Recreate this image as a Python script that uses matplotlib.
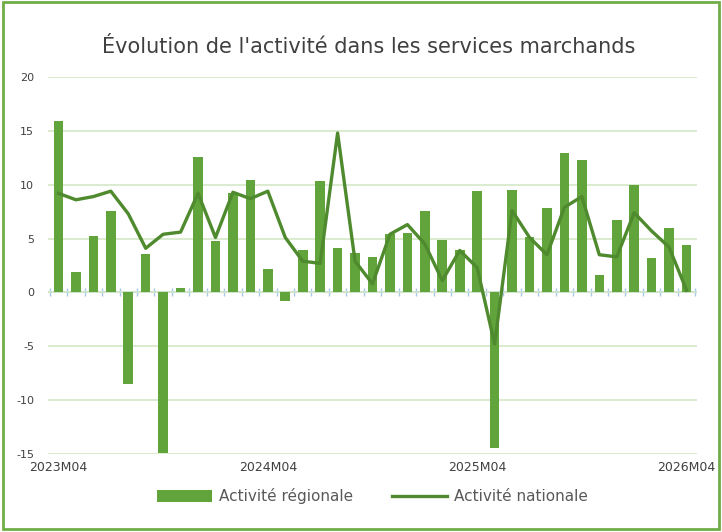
import matplotlib.pyplot as plt
from matplotlib.patches import Rectangle
import numpy as np

# monthly series 2023M04 .. 2026M04
months = [f"{y}M{m:02d}" for y in range(2023, 2027) for m in range(1, 13)][3:40]
regionale = [15.9, 1.9, 5.2, 7.6, -8.5, 3.6, -14.9, 0.4, 12.6, 4.8, 9.2, 10.4, 2.2,
             -0.8, 3.9, 10.3, 4.1, 3.7, 3.3, 5.4, 5.5, 7.6, 4.9, 3.9, 9.4, -14.4,
             9.5, 5.1, 7.8, 12.9, 12.3, 1.6, 6.7, 10.0, 3.2, 6.0, 4.4]
nationale = [9.2, 8.6, 8.9, 9.4, 7.3, 4.1, 5.4, 5.6, 9.2, 5.1, 9.3, 8.7, 9.4,
             5.1, 2.9, 2.7, 14.8, 2.9, 0.8, 5.4, 6.3, 4.5, 1.1, 3.9, 2.3, -4.8,
             7.6, 5.1, 3.5, 7.9, 8.9, 3.5, 3.3, 7.4, 5.7, 4.2, 0.2]
shown_labels = ["2023M04", "2024M04", "2025M04", "2026M04"]

bar_col = '#62A43C'
line_col = '#4F8A2E'
grid_col = '#D3E8C6'
text_col = '#404040'

plt.rcParams['font.family'] = ['DejaVu Sans']
plt.rcParams['axes.unicode_minus'] = False

fig = plt.figure(figsize=(7.22, 5.32), dpi=100)
ax = fig.add_axes([48 / 722, 1 - 454 / 532, 649 / 722, 377 / 532])

x = np.arange(len(months))
bars = ax.bar(x, regionale, width=0.55, color=bar_col, zorder=2)
line, = ax.plot(x, nationale, color=line_col, lw=2.4, zorder=3)

ax.set_ylim(-15, 20)
ax.set_xlim(-0.6, len(months) - 0.4)
ax.set_yticks(range(-15, 21, 5))
ax.yaxis.grid(True, color=grid_col, lw=1.2, zorder=0)
ax.tick_params(axis='y', length=0, labelsize=8, labelcolor=text_col, pad=10)

# category axis on zero line
ax.axhline(0, color='#A9C8E8', lw=1.2, zorder=1)
ax.plot(np.arange(-0.5, len(months)), np.zeros(len(months) + 1), ls='none',
        marker='|', ms=6, mew=1, color='#A9C8E8', zorder=1)

idx = [months.index(l) for l in shown_labels]
ax.set_xticks(idx)
ax.set_xticklabels(shown_labels)
ax.tick_params(axis='x', length=0, labelsize=9, labelcolor=text_col, pad=5)

for s in ax.spines.values():
    s.set_visible(False)

fig.suptitle("Évolution de l'activité dans les services marchands",
             x=0.51, y=0.93, fontsize=15, color=text_col)

ax.legend([bars, line], ['Activité régionale', 'Activité nationale'],
          loc='upper center', bbox_to_anchor=(0.5, -0.055), ncol=2, frameon=False,
          fontsize=11, labelcolor='#595959', handlelength=3.6, handletextpad=0.5,
          columnspacing=2.5, handleheight=0.8)

fig.patches.append(Rectangle((0.004, 0.006), 0.992, 0.99, transform=fig.transFigure,
                             fill=False, ec='#70AD47', lw=2))

fig.savefig('out.png', dpi=100)
